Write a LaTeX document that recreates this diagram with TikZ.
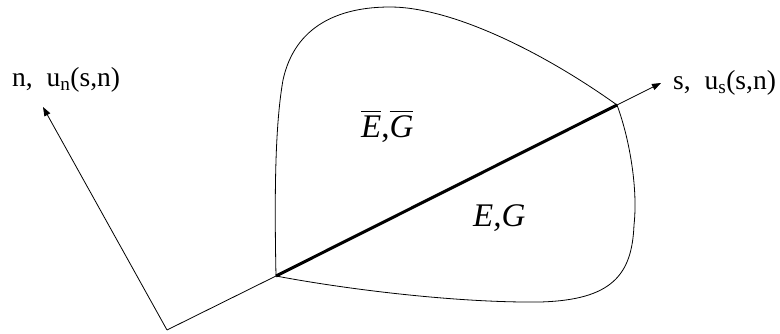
\documentclass[tikz,border=0pt]{standalone}
\usepackage{fontspec}
\setmainfont{Liberation Serif}
\usetikzlibrary{arrows.meta}
\newcommand{\barit}[1]{$\overline{\mbox{\itshape #1}\rule{0pt}{0.78em}}$}
\begin{document}
\begin{tikzpicture}[x=1pt,y=-1pt,
  thinline/.style={line width=0.8pt},
  crackline/.style={line width=3pt},
  axis/.style={line width=0.8pt,-{Triangle[length=9pt,width=6.5pt]}},
  lbl/.style={font=\fontsize{27.5}{32}\selectfont, anchor=base west, inner sep=0pt},
  mat/.style={font=\fontsize{33}{38}\selectfont, anchor=base west, inner sep=0pt}]
\useasboundingbox (0,0) rectangle (780,334);
\coordinate (O) at (167,330);
\coordinate (A) at (276,276);
\coordinate (B) at (617,105);
\coordinate (S) at (661,83);
\coordinate (N) at (43,107);
\draw[axis] (O) -- (N);
\draw[thinline] (O) -- (A);
\draw[axis] (B) -- (S);
\draw[thinline] (A) .. controls (274,180) and (276,120) .. (283,80)
  .. controls (295,25) and (340,7) .. (390,7)
  .. controls (450,7) and (540,50) .. (B)
  .. controls (630,140) and (638,190) .. (634,225)
  .. controls (632,275) and (612,300) .. (540,302)
  .. controls (460,303) and (350,290) .. (A);
\draw[crackline] (A) -- (B);
\node[lbl] (nl) at (12,87) {n,\ \ u\textsubscript{n}(s,n)};
\node[lbl] (sl) at (673,90) {s,\ \ u\textsubscript{s}(s,n)};
\node[mat] (eg1) at (361,138) {\barit{E},\barit{G}};
\node[mat] (eg2) at (473,227) {\itshape E,G};
\end{tikzpicture}
\end{document}
